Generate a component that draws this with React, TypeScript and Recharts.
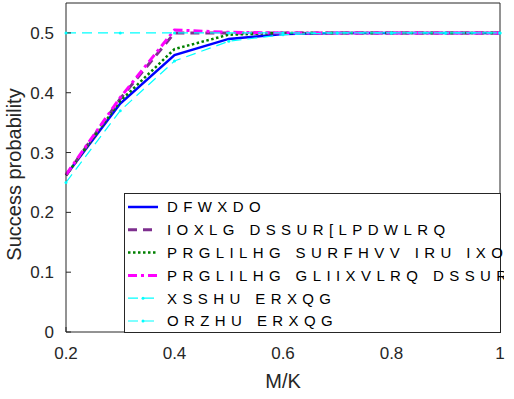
import { LineChart, Line, XAxis, YAxis } from 'recharts'

const mk = [0.2, 0.3, 0.4, 0.5, 0.6, 0.7, 0.8, 0.9, 1.0]
const actual = [0.262, 0.382, 0.463, 0.49, 0.498, 0.5, 0.5, 0.5, 0.5]
const fluid = [0.262, 0.39, 0.5, 0.5, 0.5, 0.5, 0.5, 0.5, 0.5]
const modProcess = [0.262, 0.386, 0.473, 0.497, 0.5, 0.5, 0.5, 0.5, 0.5]
const modDiffusion = [0.263, 0.392, 0.505, 0.501, 0.5, 0.5, 0.5, 0.5, 0.5]
const upper = [0.5, 0.5, 0.5, 0.5, 0.5, 0.5, 0.5, 0.5, 0.5]
const lower = [0.25, 0.37, 0.453, 0.486, 0.497, 0.5, 0.5, 0.5, 0.5]

const xTicks = [0.2, 0.4, 0.6, 0.8, 1]
const yTicks = [0, 0.1, 0.2, 0.3, 0.4, 0.5]

const data = mk.map((m, i) => ({
  m,
  actual: actual[i],
  fluid: fluid[i],
  modProcess: modProcess[i],
  modDiffusion: modDiffusion[i],
  upper: upper[i],
  lower: lower[i],
}))

const series = [
  { key: 'actual', name: 'DFWXDO', color: '#0000ff', width: 2.5, dash: undefined, dot: false },
  { key: 'fluid', name: 'IOXLG DSSUR[LPDWLRQ', color: '#7e2f8e', width: 3, dash: '9 6', dot: false },
  { key: 'modProcess', name: 'PRGLILHG SURFHVV IRU IXOO', color: '#008000', width: 2.5, dash: '2.5 2.5', dot: false },
  { key: 'modDiffusion', name: 'PRGLILHG GLIIXVLRQ DSSUR[', color: '#ff00ff', width: 3, dash: '9 4 3 4', dot: false },
  { key: 'upper', name: 'XSSHU ERXQG', color: '#00ffff', width: 1.2, dash: '10 6', dot: true },
  { key: 'lower', name: 'ORZHU ERXQG', color: '#00ffff', width: 1.2, dash: '10 6', dot: true },
]

const axisColor = '#262626'
const font = "'Liberation Sans', Arial, sans-serif"

function LegendBox() {
  const rowH = 22.8
  return (
    <svg
      width={380}
      height={141}
      style={{ position: 'absolute', left: 124, top: 193, overflow: 'hidden' }}
    >
      <rect x={0.5} y={0.5} width={376} height={139} fill="#fff" stroke={axisColor} strokeWidth={1} />
      {series.map((s, i) => {
        const cy = 14 + i * rowH
        return (
          <g key={s.key}>
            <line
              x1={4}
              x2={34}
              y1={cy}
              y2={cy}
              stroke={s.color}
              strokeWidth={s.width}
              strokeDasharray={s.dash}
            />
            {s.dot && <circle cx={19} cy={cy} r={1.5} fill={s.color} />}
            <text
              x={43}
              y={cy + 5.4}
              fontFamily={font}
              fontSize={15}
              fill="#000"
              style={{ letterSpacing: '5.4px' }}
            >
              {s.name}
            </text>
          </g>
        )
      })}
    </svg>
  )
}

export default function App() {
  return (
    <div style={{ position: 'absolute', left: 0, top: 0, width: 514, height: 399, background: '#fff' }}>
      <LineChart width={514} height={399} data={data} margin={{ top: 0, right: 0, left: 0, bottom: 0 }}>
        <XAxis
          xAxisId="bottom"
          dataKey="m"
          type="number"
          domain={[0.2, 1]}
          ticks={xTicks}
          height={67}
          tickSize={-5}
          tickMargin={20}
          stroke={axisColor}
          tick={{ fill: axisColor, fontSize: 17, fontFamily: font }}
          tickFormatter={(v: number) => String(v)}
          label={({ viewBox }: any) => (
            <text
              x={viewBox.x + viewBox.width / 2}
              y={388}
              textAnchor="middle"
              fontFamily={font}
              fontSize={20}
              fill={axisColor}
            >
              M/K
            </text>
          )}
        />
        <XAxis
          xAxisId="top"
          dataKey="m"
          type="number"
          orientation="top"
          domain={[0.2, 1]}
          ticks={xTicks}
          height={3}
          tickSize={-5}
          tick={false}
          stroke={axisColor}
        />
        <YAxis
          yAxisId="left"
          type="number"
          domain={[0, 0.55]}
          ticks={yTicks}
          width={66}
          tickSize={-5}
          tickMargin={17}
          stroke={axisColor}
          tick={{ fill: axisColor, fontSize: 17, fontFamily: font }}
          tickFormatter={(v: number) => String(v)}
          label={({ viewBox }: any) => (
            <text
              x={21}
              y={viewBox.y + viewBox.height / 2 + 7}
              transform={`rotate(-90 21 ${viewBox.y + viewBox.height / 2 + 7})`}
              textAnchor="middle"
              fontFamily={font}
              fontSize={20}
              fill={axisColor}
            >
              Success probability
            </text>
          )}
        />
        <YAxis
          yAxisId="right"
          orientation="right"
          type="number"
          domain={[0, 0.55]}
          ticks={yTicks}
          width={14}
          tickSize={-5}
          tick={false}
          stroke={axisColor}
        />
        {series.map((s) => (
          <Line
            key={s.key}
            xAxisId="bottom"
            yAxisId="left"
            type="linear"
            dataKey={s.key}
            stroke={s.color}
            strokeWidth={s.width}
            strokeDasharray={s.dash}
            dot={s.dot ? { r: 1.5, fill: s.color, stroke: 'none' } : false}
            activeDot={false}
            isAnimationActive={false}
          />
        ))}
      </LineChart>
      <LegendBox />
    </div>
  )
}
